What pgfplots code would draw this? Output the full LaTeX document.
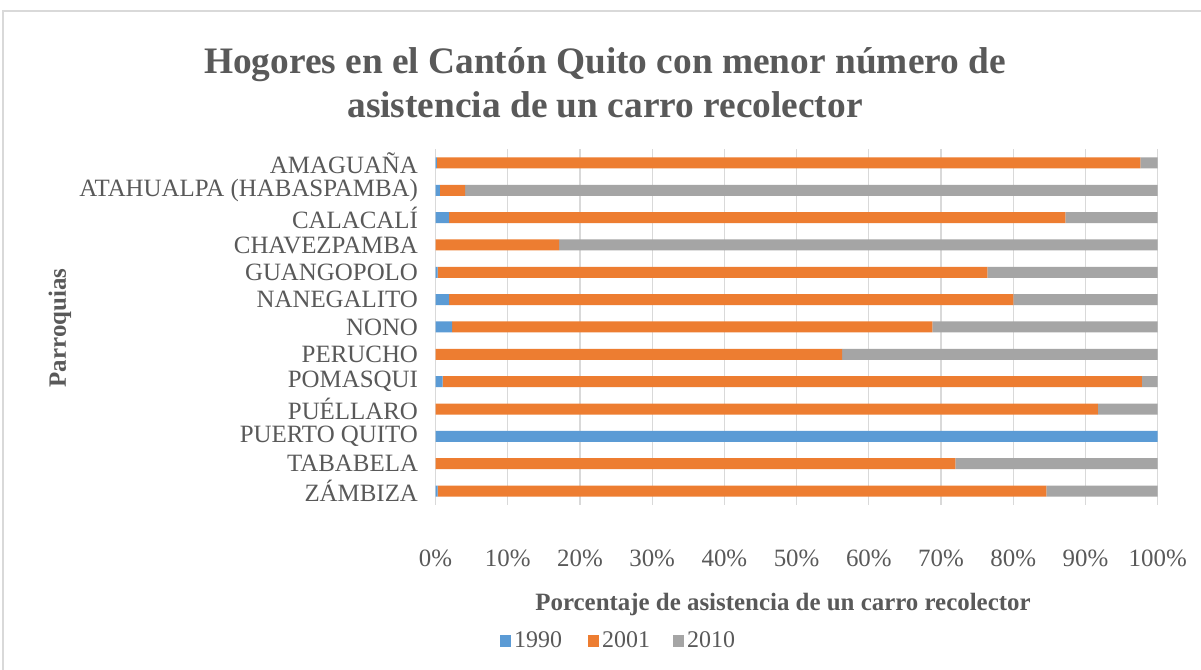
\documentclass[border=0pt]{standalone}
\usepackage{pgfplots}
\pgfplotsset{compat=1.18}
\usepackage{fontspec}
\setmainfont{Liberation Serif}
\definecolor{c1990}{HTML}{5B9BD5}
\definecolor{c2001}{HTML}{ED7D31}
\definecolor{c2010}{HTML}{A5A5A5}
\definecolor{txt}{HTML}{595959}
\definecolor{gridc}{HTML}{D9D9D9}
\begin{document}
\begin{tikzpicture}[x=1bp,y=1bp]
\useasboundingbox (0,0) rectangle (1201,670);
\fill[white] (0,0) rectangle (1201,670);
\draw[gridc, line width=1.2bp] (3,-5) -- (3,659) -- (1210,659);
\begin{axis}[
  at={(435.5bp,165.3bp)}, anchor=south west,
  scale only axis, width=722.2bp, height=355.4bp,
  xbar stacked, bar width=11bp,
  xmin=0, xmax=100, ymin=-0.5, ymax=12.5, y dir=reverse,
  ytick={0,...,12},
  yticklabels={AMAGUAÑA,ATAHUALPA (HABASPAMBA),CALACALÍ,CHAVEZPAMBA,GUANGOPOLO,NANEGALITO,NONO,PERUCHO,POMASQUI,PUÉLLARO,PUERTO QUITO,TABABELA,ZÁMBIZA},
  xtick={0,10,...,100},
  xticklabel={\pgfmathprintnumber{\tick}\%},
  /pgf/number format/assume math mode=true,
  xmajorgrids, grid style={draw=gridc, line width=1.3bp},
  axis line style={draw=none},
  major tick length=0pt,
  tick label style={font=\fontsize{25}{27}\selectfont, text=txt},
  yticklabel style={xshift=-14bp},
  xticklabel style={yshift=-42bp},
  every axis plot/.append style={draw=none},
]
\addplot[fill=c1990] coordinates {(0.2,0) (0.6,1) (1.9,2) (0,3) (0.3,4) (1.9,5) (2.3,6) (0,7) (1.0,8) (0,9) (100,10) (0,11) (0.3,12)};
\addplot[fill=c2001] coordinates {(97.4,0) (3.5,1) (85.3,2) (17.1,3) (76.1,4) (78.1,5) (66.5,6) (56.3,7) (96.8,8) (91.7,9) (0,10) (72.0,11) (84.3,12)};
\addplot[fill=c2010] coordinates {(2.4,0) (95.9,1) (12.8,2) (82.9,3) (23.6,4) (20.0,5) (31.2,6) (43.7,7) (2.2,8) (8.3,9) (0,10) (28.0,11) (15.4,12)};
\end{axis}
\node[txt, font=\bfseries\fontsize{37.5}{45}\selectfont, align=center, anchor=base] at (605,552) {Hogores en el Cantón Quito con menor número de\\asistencia de un carro recolector};
\node[txt, font=\bfseries\fontsize{25}{27}\selectfont, rotate=90] at (60,342) {Parroquias};
\node[txt, font=\bfseries\fontsize{25}{27}\selectfont, anchor=base] at (783,59) {Porcentaje de asistencia de un carro recolector};
\begin{scope}[font=\fontsize{24}{26}\selectfont, txt]
\fill[c1990] (500,23) rectangle (511,35);
\node[anchor=base west, inner sep=0] at (514,22) {1990};
\fill[c2001] (588,23) rectangle (599,35);
\node[anchor=base west, inner sep=0] at (602,22) {2001};
\fill[c2010] (673,23) rectangle (684,35);
\node[anchor=base west, inner sep=0] at (687,22) {2010};
\end{scope}
\end{tikzpicture}
\end{document}
